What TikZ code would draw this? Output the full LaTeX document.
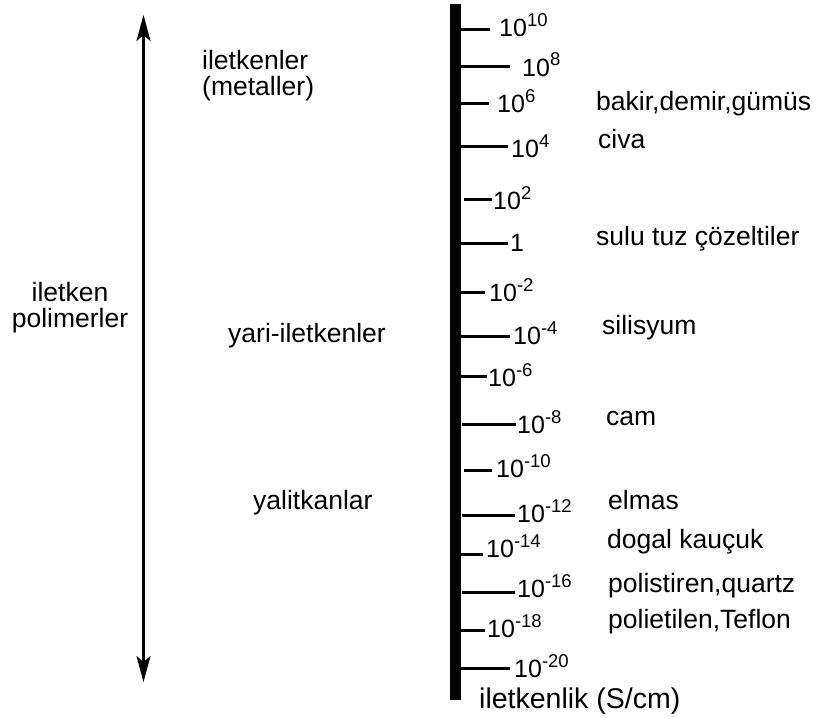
\documentclass[tikz,border=0pt]{standalone}
\usepackage{fontspec}
\setmainfont{Liberation Sans}
\usetikzlibrary{arrows.meta}
\newcommand{\tenpow}[1]{10\raisebox{10pt}{\fontsize{18.5}{20}\selectfont #1}}
\begin{document}
\begin{tikzpicture}[x=1pt,y=-1pt,
  lbl/.style={anchor=base west, inner sep=0pt, font=\fontsize{26.5}{25}\selectfont},
  clbl/.style={anchor=base, inner sep=0pt, font=\fontsize{26.5}{26}\selectfont},
  num/.style={anchor=base west, inner sep=0pt, font=\fontsize{25}{30}\selectfont},
  tickline/.style={line width=3pt},
  bigarrow/.style={line width=3pt, {Stealth[length=26pt,width=14pt,inset=6pt]}-{Stealth[length=26pt,width=14pt,inset=6pt]}},
]
\useasboundingbox (0,0) rectangle (818,717);
% scale bar
\node[fill=black, inner sep=0pt, minimum width=11pt, minimum height=696pt, anchor=north west] (bar) at (450,4) {};
% ticks: name / y / x-start / x-end / label x / baseline / text
\foreach \n/\y/\xa/\xb/\lx/\by/\t in {
  t1/30/461/490/499/37/{\tenpow{10}},
  t2/66/461/510/522/76/{\tenpow{8}},
  t3/103/461/489/497/112/{\tenpow{6}},
  t4/146/461/508/511/157/{\tenpow{4}},
  t5/199/464/492/493/209/{\tenpow{2}},
  t6/243/461/508/510/251/{1},
  t7/292/461/485/489/301/{\tenpow{-2}},
  t8/336/461/510/513/344/{\tenpow{-4}},
  t9/376/461/487/488/386/{\tenpow{-6}},
  t10/424/462/516/517/433/{\tenpow{-8}},
  t11/470/464/492/496/477/{\tenpow{-10}},
  t12/515/462/515/517/522/{\tenpow{-12}},
  t13/554/461/483/486/557/{\tenpow{-14}},
  t14/592/462/515/517/597/{\tenpow{-16}},
  t15/630/461/485/487/637/{\tenpow{-18}},
  t16/668/461/510/514/677/{\tenpow{-20}}}{
  \coordinate (\n a) at (\xa,\y);
  \coordinate (\n b) at (\xb,\y);
  \draw[tickline] (\n a) -- (\n b);
  \node[num] (\n l) at (\lx,\by) {\t};
}
% materials
\node[lbl] (m1) at (596,110) {bakir,demir,gümüs};
\node[lbl] (m2) at (598,148) {civa};
\node[lbl] (m3) at (596,245) {sulu tuz çözeltiler};
\node[lbl] (m4) at (602,334) {silisyum};
\node[lbl] (m5) at (606,425) {cam};
\node[lbl] (m6) at (608,509) {elmas};
\node[lbl] (m7) at (607,548) {dogal kauçuk};
\node[lbl] (m8) at (608,592) {polistiren,quartz};
\node[lbl] (m9) at (608,628) {polietilen,Teflon};
\node[lbl, font=\fontsize{28.5}{30}\selectfont] (axis) at (479,708) {iletkenlik (S/cm)};
% classes
\node[lbl, align=left] (c1) at (202,95) {iletkenler\\(metaller)};
\node[lbl] (c2) at (228,342) {yari-iletkenler};
\node[lbl] (c3) at (253,509) {yalitkanlar};
\node[clbl, align=center] (p) at (70,327) {iletken\\polimerler};
% range arrow
\coordinate (atop) at (143.5,15);
\coordinate (abot) at (143.5,682);
\draw[bigarrow] (atop) -- (abot);
\end{tikzpicture}
\end{document}
